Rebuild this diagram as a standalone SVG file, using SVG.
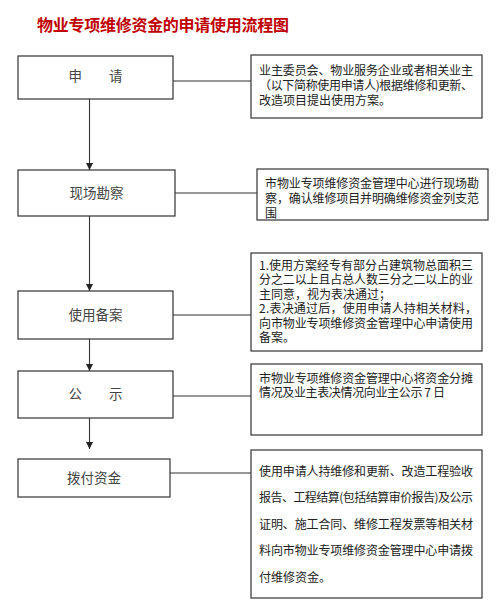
<svg xmlns="http://www.w3.org/2000/svg" width="500" height="603" viewBox="0 0 500 603">
<style>
.bg{fill:#fff}
.box{fill:#fff;stroke:#333;stroke-width:1.2}
.lbl{font-family:"Noto Sans CJK SC","Noto Sans",sans-serif;font-size:13.5px;fill:#444;text-anchor:middle}
.desc{font-family:"Noto Sans CJK SC","Noto Sans",sans-serif;font-size:12px;fill:#222}
.title{font-family:"Noto Sans CJK SC",sans-serif;font-size:16px;font-weight:bold;fill:#c00000}
.ln{stroke:#333;stroke-width:1.1;fill:none}
</style>
<defs>
<marker id="arr" viewBox="0 0 8 8" refX="8" refY="4" markerWidth="7" markerHeight="7" markerUnits="userSpaceOnUse" orient="auto">
<path d="M0,0 L8,4 L0,8 Z" fill="#222"/>
</marker>
<clipPath id="clip2"><rect x="257" y="169" width="231" height="50.5"/></clipPath>
</defs>
<rect class="bg" x="0" y="0" width="500" height="603"/>
<text class="title" x="37" y="31" textLength="252" lengthAdjust="spacing">物业专项维修资金的申请使用流程图</text>

<g id="connectors">
<line class="ln" x1="89.5" y1="99" x2="89.5" y2="170" marker-end="url(#arr)"/>
<line class="ln" x1="89.5" y1="216" x2="89.5" y2="291" marker-end="url(#arr)"/>
<line class="ln" x1="89.5" y1="339" x2="89.5" y2="371" marker-end="url(#arr)"/>
<line class="ln" x1="89.5" y1="418" x2="89.5" y2="449" marker-end="url(#arr)"/>
<line class="ln" x1="173" y1="81" x2="251" y2="81"/>
<line class="ln" x1="175" y1="193" x2="257" y2="193"/>
<line class="ln" x1="173" y1="315" x2="251" y2="315"/>
<line class="ln" x1="173" y1="396" x2="251" y2="396"/>
<line class="ln" x1="170" y1="473" x2="251" y2="473"/>
</g>

<g id="node-apply">
<rect class="box" x="18" y="56" width="155" height="43"/>
<text class="lbl" x="95.5" y="80.5">申　　请</text>
</g>
<g id="note-apply">
<rect class="box" x="251" y="55" width="231" height="63"/>
<text class="desc"><tspan x="259" y="74.5" textLength="214" lengthAdjust="spacing">业主委员会、物业服务企业或者相关业主</tspan><tspan x="259" y="89.5" textLength="214" lengthAdjust="spacing">（以下简称使用申请人)根据维修和更新、</tspan><tspan x="259" y="104.5">改造项目提出使用方案。</tspan></text>
</g>

<g id="node-survey">
<rect class="box" x="18" y="170" width="157" height="46"/>
<text class="lbl" x="96.5" y="197.5">现场勘察</text>
</g>
<g id="note-survey">
<rect class="box" x="257" y="169" width="231" height="51"/>
<text class="desc" clip-path="url(#clip2)"><tspan x="265" y="187.5" textLength="214" lengthAdjust="spacing">市物业专项维修资金管理中心进行现场勘</tspan><tspan x="265" y="202.5" textLength="214" lengthAdjust="spacing">察，确认维修项目并明确维修资金列支范</tspan><tspan x="265" y="217.5">围</tspan></text>
</g>

<g id="node-record">
<rect class="box" x="18" y="291" width="155" height="48"/>
<text class="lbl" x="95.5" y="320">使用备案</text>
</g>
<g id="note-record">
<rect class="box" x="251" y="253" width="231" height="98"/>
<text class="desc"><tspan x="259" y="269.5" textLength="214" lengthAdjust="spacing">1.使用方案经专有部分占建筑物总面积三</tspan><tspan x="259" y="284" textLength="214" lengthAdjust="spacing">分之二以上且占总人数三分之二以上的业</tspan><tspan x="259" y="298.5">主同意，视为表决通过；</tspan><tspan x="259" y="313" textLength="218" lengthAdjust="spacing">2.表决通过后，使用申请人持相关材料，</tspan><tspan x="259" y="327.5" textLength="214" lengthAdjust="spacing">向市物业专项维修资金管理中心申请使用</tspan><tspan x="259" y="341.5">备案。</tspan></text>
</g>

<g id="node-publicity">
<rect class="box" x="18" y="371" width="155" height="47"/>
<text class="lbl" x="95.5" y="399">公　　示</text>
</g>
<g id="note-publicity">
<rect class="box" x="251" y="364" width="231" height="71"/>
<text class="desc"><tspan x="259" y="382.5" textLength="214" lengthAdjust="spacing">市物业专项维修资金管理中心将资金分摊</tspan><tspan x="259" y="396.5" textLength="186" lengthAdjust="spacing">情况及业主表决情况向业主公示 7 日</tspan></text>
</g>

<g id="node-fund">
<rect class="box" x="18" y="459" width="152" height="38"/>
<text class="lbl" x="94" y="483">拨付资金</text>
</g>
<g id="note-fund">
<rect class="box" x="251" y="450" width="231" height="148"/>
<text class="desc"><tspan x="259" y="475.5" textLength="214" lengthAdjust="spacing">使用申请人持维修和更新、改造工程验收</tspan><tspan x="259" y="502" textLength="214" lengthAdjust="spacing">报告、工程结算(包括结算审价报告)及公示</tspan><tspan x="259" y="528.5" textLength="214" lengthAdjust="spacing">证明、施工合同、维修工程发票等相关材</tspan><tspan x="259" y="555" textLength="214" lengthAdjust="spacing">料向市物业专项维修资金管理中心申请拨</tspan><tspan x="259" y="582">付维修资金。</tspan></text>
</g>
</svg>
